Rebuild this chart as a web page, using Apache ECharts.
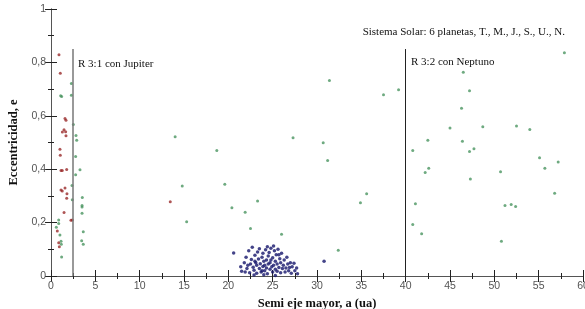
<!DOCTYPE html>
<html>
<head>
<meta charset="utf-8">
<script src="https://cdn.jsdelivr.net/npm/echarts@6/dist/echarts.min.js"></script>
<style>
  html, body { margin: 0; padding: 0; background: #fff; }
  #main { width: 585px; height: 309px; }
</style>
</head>
<body>
<div id="main"></div>
<script>
// puntos rojos (cerca de Jupiter)
var rojos = [[0.9,0.829],[1.05,0.759],[1.58,0.59],[1.69,0.583],[1.47,0.548],[1.28,0.539],[1.65,0.54],
  [1.69,0.525],[1.01,0.475],[1.05,0.452],[1.13,0.395],[1.27,0.395],[1.77,0.399],[1.13,0.322],[1.27,0.318],
  [1.58,0.33],[1.8,0.308],[1.77,0.291],[1.47,0.238],[2.25,0.209],[2.4,0.21],[0.71,0.169],[0.87,0.125],
  [0.94,0.11],[13.45,0.278]]

// puntos verdes (dispersos)
var verdes = [[1.09,0.675],[1.2,0.672],[2.3,0.721],[2.3,0.677],[2.52,0.567],[2.82,0.526],[2.9,0.508],
  [2.78,0.448],[3.27,0.398],[2.78,0.379],[2.37,0.339],[2.4,0.286],[3.53,0.294],[3.5,0.264],[3.5,0.258],
  [3.5,0.235],[0.87,0.21],[0.87,0.197],[0.6,0.183],[3.64,0.166],[1.01,0.154],[1.13,0.13],[1.16,0.119],
  [3.46,0.132],[3.64,0.119],[1.2,0.071],
  [31.4,0.732],[37.5,0.679],[39.2,0.698],[14.0,0.522],[27.3,0.518],[18.7,0.47],[30.7,0.499],[31.2,0.433],
  [14.8,0.337],[19.6,0.344],[35.6,0.308],[34.9,0.274],[20.4,0.256],[21.9,0.239],[23.3,0.281],[15.3,0.203],
  [22.5,0.178],[26.0,0.156],[32.4,0.096],
  [57.9,0.836],[46.5,0.763],[47.2,0.694],[46.3,0.628],[45.0,0.554],[48.7,0.559],[52.5,0.562],[54.0,0.549],
  [42.5,0.508],[40.8,0.47],[46.4,0.505],[47.2,0.466],[47.7,0.477],[55.1,0.443],[55.7,0.404],[57.2,0.427],
  [42.6,0.404],[42.2,0.388],[50.7,0.39],[47.3,0.363],[56.8,0.31],[41.1,0.271],[51.2,0.264],[51.9,0.268],
  [52.4,0.26],[40.8,0.193],[41.8,0.158],[50.8,0.13]]

// puntos azules (cumulo cerca de 25 ua)
var azules = [[20.6,0.086],[21.4,0.035],[21.5,0.018],[21.8,0.05],[22.0,0.07],[22.1,0.028],[22.3,0.095],
  [22.4,0.012],[22.5,0.045],[22.6,0.062],[22.7,0.108],[22.8,0.033],[22.9,0.022],[23.0,0.078],[23.1,0.05],
  [23.2,0.01],[23.2,0.04],[23.3,0.09],[23.4,0.064],[23.5,0.028],[23.5,0.102],[23.6,0.046],[23.7,0.015],
  [23.8,0.07],[23.9,0.036],[23.9,0.085],[24.0,0.055],[24.1,0.02],[24.1,0.04],[24.2,0.098],[24.3,0.03],
  [24.3,0.06],[24.4,0.008],[24.5,0.045],[24.5,0.075],[24.6,0.088],[24.7,0.025],[24.7,0.05],[24.8,0.104],
  [24.9,0.035],[25.0,0.015],[25.0,0.068],[25.1,0.112],[25.1,0.04],[25.2,0.095],[25.3,0.025],[25.3,0.055],
  [25.4,0.08],[25.5,0.018],[25.5,0.045],[25.6,0.1],[25.7,0.032],[25.8,0.065],[25.9,0.012],[25.9,0.05],
  [26.0,0.085],[26.1,0.028],[26.2,0.04],[26.3,0.06],[26.4,0.015],[26.5,0.03],[26.6,0.07],[26.7,0.045],
  [26.8,0.02],[27.0,0.05],[27.1,0.01],[27.2,0.035],[27.4,0.048],[27.5,0.02],[27.7,0.03],[27.8,0.008],
  [22.2,0.04],[23.8,0.02],[24.8,0.06],[25.7,0.08],[23.0,0.055],[24.4,0.11],[26.9,0.032],[21.9,0.015],
  [25.3,0.002],[24.0,0.005],[22.9,0.004],[30.8,0.055]]

// resonancias: [a, e maxima]
var resJupiter = [2.5, 0.85]
var resNeptuno = [40, 0.85]

var myChart = echarts.init(document.getElementById('main'))

function fmtY(v) {
  if (v === 0 || v === 1) return String(v)
  return v.toFixed(1).replace('.', ',')
}

var tickStyle = { show: true, inside: true, length: 6, lineStyle: { color: '#222' } }
var minorStyle = { show: true, splitNumber: 2, length: 3, lineStyle: { color: '#222' } }
var lineStyle = { show: true, lineStyle: { color: '#555', width: 1 } }

var option = {
  animation: false,
  grid: { left: 51, right: 2, top: 9, bottom: 33, outerBoundsMode: 'none', containLabel: false },
  xAxis: [
    {
      type: 'value', min: 0, max: 60, interval: 5,
      axisLine: lineStyle, axisTick: tickStyle, minorTick: minorStyle,
      splitLine: { show: false }, minorSplitLine: { show: false },
      axisLabel: { color: '#555', fontSize: 10.5, fontFamily: 'Liberation Sans', margin: 5 },
      name: 'Semi eje mayor, a (ua)', nameLocation: 'middle', nameGap: 18,
      nameTextStyle: { fontFamily: 'Liberation Serif', fontWeight: 'bold', fontSize: 12.5, color: '#111' }
    },
    {
      type: 'value', min: 0, max: 60, interval: 5, position: 'top',
      axisLine: lineStyle, axisTick: tickStyle, minorTick: minorStyle,
      splitLine: { show: false }, axisLabel: { show: false }
    }
  ],
  yAxis: [
    {
      type: 'value', min: 0, max: 1, interval: 0.2,
      axisLine: lineStyle, axisTick: tickStyle, minorTick: minorStyle,
      splitLine: { show: false },
      axisLabel: { color: '#555', fontSize: 10.5, fontFamily: 'Liberation Sans', margin: 5, formatter: fmtY },
      name: 'Eccentricidad, e', nameLocation: 'middle', nameGap: 24,
      nameTextStyle: { fontFamily: 'Liberation Serif', fontWeight: 'bold', fontSize: 12.5, color: '#111' }
    },
    {
      type: 'value', min: 0, max: 1, interval: 0.2, position: 'right',
      axisLine: lineStyle, axisTick: tickStyle, minorTick: minorStyle,
      splitLine: { show: false }, axisLabel: { show: false }
    }
  ],
  series: [
    {
      type: 'scatter', name: 'verdes', data: verdes, symbolSize: 3,
      itemStyle: { color: '#4a9560' },
      markLine: {
        silent: true, symbol: 'none', label: { show: false },
        data: [
          [{ coord: [resJupiter[0], 0], lineStyle: { color: '#777', width: 1.5, type: 'solid' } },
           { coord: [resJupiter[0], resJupiter[1]] }],
          [{ coord: [resNeptuno[0], 0], lineStyle: { color: '#222', width: 1, type: 'solid' } },
           { coord: [resNeptuno[0], resNeptuno[1]] }]
        ]
      }
    },
    {
      type: 'scatter', name: 'rojos', data: rojos, symbolSize: 3,
      itemStyle: { color: '#9a2a2a' }
    },
    {
      type: 'scatter', name: 'azules', data: azules, symbolSize: 3.5,
      itemStyle: { color: '#15156b' }
    }
  ],
  graphic: [
    { type: 'text', right: 20, top: 27,
      style: { text: 'Sistema Solar: 6 planetas, T., M., J., S., U., N.', font: '11px "Liberation Serif"', fill: '#111' } },
    { type: 'text', left: 78, top: 59,
      style: { text: 'R 3:1 con Jupiter', font: '11px "Liberation Serif"', fill: '#111' } },
    { type: 'text', left: 411, top: 57,
      style: { text: 'R 3:2 con Neptuno', font: '11px "Liberation Serif"', fill: '#111' } }
  ]
}
option && myChart.setOption(option)
</script>
</body>
</html>
